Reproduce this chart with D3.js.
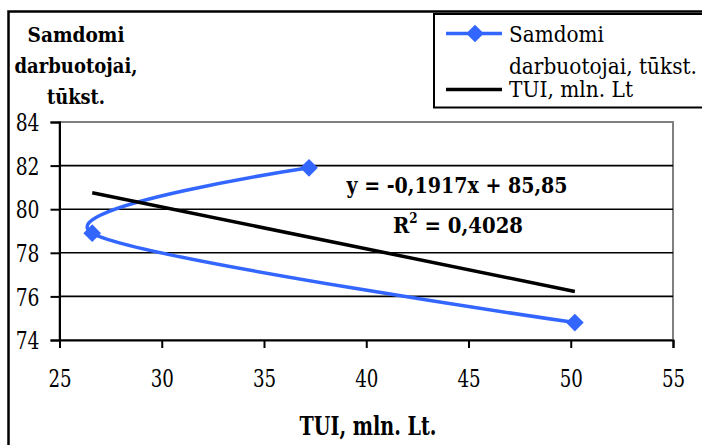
<!DOCTYPE html>
<html>
<head>
<meta charset="utf-8">
<script src="https://cdn.jsdelivr.net/npm/d3@7"></script>
<style>
  html, body { margin: 0; padding: 0; background: #fff; }
  svg { display: block; }
  svg text { font-family: "DejaVu Serif", serif; fill: #000; }
</style>
</head>
<body>
<svg id="chart" width="702" height="445"></svg>
<script>
// ---- data ----
const tui = [37.2, 26.6, 50.2];            // TUI, mln. Lt (x)
const samdomi = [81.9, 78.9, 74.8];        // Samdomi darbuotojai, tūkst. (y)
const xTicks = [25, 30, 35, 40, 45, 50, 55];
const yTicks = [74, 76, 78, 80, 82, 84];
const trendSlope = -0.1917;
const trendIntercept = 85.85;
const eqLabel = "y = -0,1917x + 85,85";
const r2Label = "0,4028";
const seriesName = ["Samdomi", "darbuotojai, tūkst."];
const trendName = "TUI, mln. Lt";
const yTitle = ["Samdomi", "darbuotojai,", "tūkst."];
const xTitle = "TUI, mln. Lt.";

const blue = "#3366FF";
const svg = d3.select("#chart");

// condense serif text to the reference's widths (Times-like proportions)
function fit(sel, ratio) {
  sel.each(function () {
    const w = this.getComputedTextLength();
    d3.select(this).attr("textLength", w * ratio).attr("lengthAdjust", "spacingAndGlyphs");
  });
}

// outer frame (extends beyond viewport)
svg.append("rect").attr("x", 8.5).attr("y", 11.5).attr("width", 760).attr("height", 500)
  .attr("fill", "none").attr("stroke", "#000").attr("stroke-width", 2.5);

const x = d3.scaleLinear().domain([25, 55]).range([59.5, 673]);
const y = d3.scaleLinear().domain([74, 84]).range([340, 122]);

// plot area border (gray)
svg.append("rect").attr("x", x(25)).attr("y", y(84)).attr("width", x(55) - x(25)).attr("height", y(74) - y(84))
  .attr("fill", "none").attr("stroke", "#808080").attr("stroke-width", 2);

// grid lines
svg.append("g").selectAll("line").data(yTicks.filter(d => d > 74 && d < 84)).join("line")
  .attr("x1", x(25)).attr("x2", x(55)).attr("y1", d => y(d)).attr("y2", d => y(d))
  .attr("stroke", "#000").attr("stroke-width", 1.6);

// axes
const yAxis = d3.axisLeft(y).tickValues(yTicks).tickSize(9).tickPadding(11).tickFormat(d3.format("d"));
const gy = svg.append("g").attr("transform", `translate(${x(25)},0)`).call(yAxis)
  .attr("font-family", null).attr("font-size", 24);
gy.select(".domain").attr("stroke", "#000").attr("stroke-width", 2);
gy.selectAll(".tick line").attr("stroke", "#000").attr("stroke-width", 2);
gy.selectAll(".tick text").attr("dy", "0.36em").call(fit, 0.78);

const xAxis = d3.axisBottom(x).tickValues(xTicks).tickSize(8).tickPadding(22).tickFormat(d3.format("d"));
const gx = svg.append("g").attr("transform", `translate(0,${y(74)})`).call(xAxis)
  .attr("font-family", null).attr("font-size", 24);
gx.select(".domain").attr("stroke", "#000").attr("stroke-width", 2);
gx.selectAll(".tick line").attr("stroke", "#000").attr("stroke-width", 2);
gx.selectAll(".tick text").attr("dy", "0.71em").call(fit, 0.76);

// series
const pts = tui.map((v, i) => [v, samdomi[i]]);
const line = d3.line().x(d => x(d[0])).y(d => y(d[1])).curve(d3.curveCardinal.tension(0));
svg.append("path").attr("d", line(pts)).attr("fill", "none").attr("stroke", blue).attr("stroke-width", 3.5);

const diamond = d3.symbol().type(d3.symbolDiamond2).size(200);
svg.append("g").selectAll("path").data(pts).join("path")
  .attr("d", diamond).attr("transform", d => `translate(${x(d[0])},${y(d[1])})`)
  .attr("fill", blue);

// trendline
const xMin = d3.min(tui), xMax = d3.max(tui);
svg.append("line")
  .attr("x1", x(xMin)).attr("y1", y(trendSlope * xMin + trendIntercept))
  .attr("x2", x(xMax)).attr("y2", y(trendSlope * xMax + trendIntercept))
  .attr("stroke", "#000").attr("stroke-width", 3.5);

// equation
svg.append("text").attr("x", 457).attr("y", 193).attr("text-anchor", "middle")
  .attr("font-size", 23).attr("font-weight", "bold")
  .attr("textLength", 221).attr("lengthAdjust", "spacingAndGlyphs").text(eqLabel);
const r2 = svg.append("text").attr("x", 458).attr("y", 233).attr("text-anchor", "middle")
  .attr("font-size", 23).attr("font-weight", "bold")
  .attr("textLength", 130).attr("lengthAdjust", "spacingAndGlyphs");
r2.append("tspan").text("R");
r2.append("tspan").attr("dy", -10).attr("font-size", 14).text("2");
r2.append("tspan").attr("dy", 10).text(" = " + r2Label);

// y title
const yTitleW = [97, 123, 58];
svg.append("g").selectAll("text").data(yTitle).join("text")
  .attr("x", 76).attr("y", (d, i) => 41.5 + i * 31).attr("text-anchor", "middle")
  .attr("font-size", 20).attr("font-weight", "bold")
  .attr("textLength", (d, i) => yTitleW[i]).attr("lengthAdjust", "spacingAndGlyphs")
  .text(d => d);

// x title
svg.append("text").attr("x", 368).attr("y", 435).attr("text-anchor", "middle")
  .attr("font-size", 26).attr("font-weight", "bold")
  .attr("textLength", 137).attr("lengthAdjust", "spacingAndGlyphs").text(xTitle);

// legend
const lg = svg.append("g");
lg.append("rect").attr("x", 434).attr("y", 14).attr("width", 300).attr("height", 93.5)
  .attr("fill", "#fff").attr("stroke", "#000").attr("stroke-width", 2);
lg.append("line").attr("x1", 446).attr("x2", 502).attr("y1", 33.5).attr("y2", 33.5)
  .attr("stroke", blue).attr("stroke-width", 3.5);
lg.append("path").attr("d", diamond).attr("transform", "translate(475,33.5)").attr("fill", blue);
lg.append("line").attr("x1", 446).attr("x2", 502).attr("y1", 89.5).attr("y2", 89.5)
  .attr("stroke", "#000").attr("stroke-width", 3.5);
const legW = [95, 188];
lg.selectAll("text.s").data(seriesName).join("text").attr("class", "s")
  .attr("x", 509).attr("y", (d, i) => 41.5 + i * 32).attr("font-size", 22.5)
  .attr("textLength", (d, i) => legW[i]).attr("lengthAdjust", "spacingAndGlyphs").text(d => d);
lg.append("text").attr("x", 509).attr("y", 96.5).attr("font-size", 22.5)
  .attr("textLength", 124).attr("lengthAdjust", "spacingAndGlyphs").text(trendName);
</script>
</body>
</html>
